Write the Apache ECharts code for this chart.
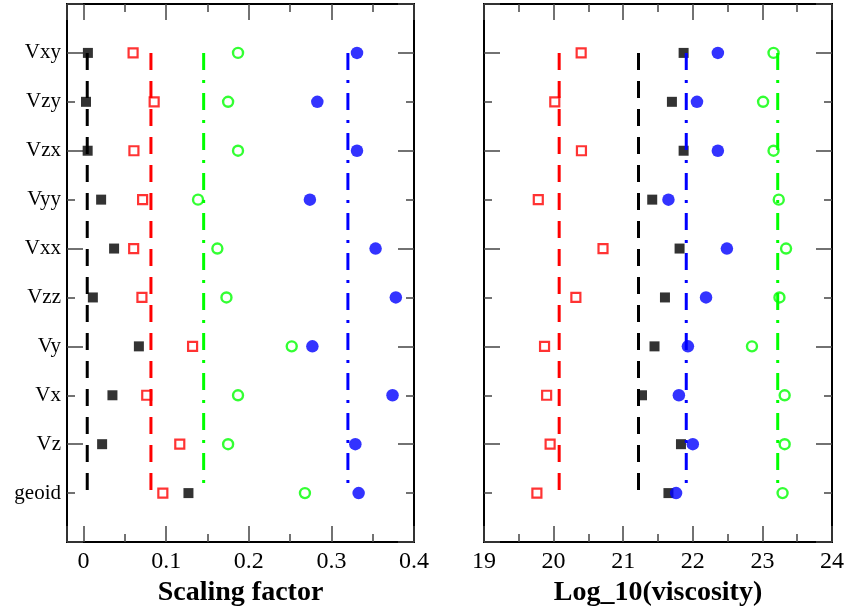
<!DOCTYPE html>
<html><head><meta charset="utf-8">
<script src="https://cdn.jsdelivr.net/npm/echarts@6/dist/echarts.min.js"></script>
<style>html,body{margin:0;padding:0;background:#fff}#c{width:845px;height:606px}</style>
</head><body><div id="c"></div>
<script>
// rows from bottom to top
const categories = ['geoid','Vz','Vx','Vy','Vzz','Vxx','Vyy','Vzx','Vzy','Vxy'];

// Left panel: Scaling factor
const scaleBlack = [0.127, 0.0225, 0.035, 0.067, 0.0113, 0.037, 0.0213, 0.005, 0.003, 0.0053];
const scaleRed   = [0.096, 0.1165, 0.0765, 0.132, 0.0707, 0.0607, 0.0715, 0.061, 0.0855, 0.060];
const scaleGreen = [0.268, 0.175, 0.187, 0.252, 0.173, 0.162, 0.1386, 0.187, 0.175, 0.187];
const scaleBlue  = [0.333, 0.329, 0.374, 0.277, 0.378, 0.3535, 0.274, 0.331, 0.283, 0.331];
// reference lines (black, red, green, blue)
const scaleLines = [0.0045, 0.0816, 0.1454, 0.320];

// Right panel: Log_10(viscosity)
const viscBlack = [21.65, 21.83, 21.27, 21.45, 21.60, 21.81, 21.417, 21.868, 21.70, 21.868];
const viscRed   = [19.76, 19.95, 19.90, 19.87, 20.32, 20.71, 19.78, 20.40, 20.017, 20.396];
const viscGreen = [23.29, 23.32, 23.32, 22.85, 23.245, 23.34, 23.235, 23.16, 23.01, 23.16];
const viscBlue  = [21.76, 22.00, 21.80, 21.93, 22.19, 22.49, 21.65, 22.36, 22.06, 22.36];
const viscLines = [21.22, 20.08, 23.22, 21.906];

const scaleTickLabels = ['0','0.1','0.2','0.3','0.4'];
const viscTickLabels = ['19','20','21','22','23','24'];

const FONT = 'Liberation Serif';
const TICKC = '#444';
const colors = ['#000000','#ff0000','#00ff00','#0000ff'];

const gridL = {left:67, top:4, width:347, height:538};
const gridR = {left:484, top:4, width:348, height:538};

function isMult(v, step){ const r = v/step; return Math.abs(r-Math.round(r))<1e-6; }

function xAx(grid, pos, min, max, step, len, labels, name){
  const a = {
    type:'value', gridIndex:grid, position:pos, min:min, max:max,
    minInterval:step, maxInterval:step,
    axisLine:{show:false, onZero:false}, splitLine:{show:false},
    axisTick:{show:true, inside:true, length:len, lineStyle:{color:TICKC, width:1.5}},
    axisLabel:{show:!!labels}
  };
  if (labels) {
    a.axisLabel = {show:true, margin:8, fontFamily:FONT, fontSize:24, color:'#000',
      formatter:(v)=>{ if(!isMult(v,step)) return ''; const i = labels.vals.findIndex(t=>Math.abs(t-v)<1e-6); return i>=0 ? labels.text[i] : ''; }};
  }
  if (name) {
    a.name = name; a.nameLocation='middle'; a.nameGap=28;
    a.nameTextStyle = {fontFamily:FONT, fontWeight:'bold', fontSize:28, color:'#000'};
  }
  return a;
}
function yAx(grid, pos, step, len, withLabels){
  const a = {
    type:'value', gridIndex:grid, position:pos, min:0, max:11, interval:step,
    axisLine:{show:false, onZero:false}, splitLine:{show:false},
    axisTick:{show:true, inside:true, length:len, lineStyle:{color:TICKC, width:1.5}},
    axisLabel:{show:false}
  };
  if (withLabels) {
    a.axisLabel = {show:true, margin:6, fontFamily:FONT, fontSize:21, color:'#000',
      formatter:(v)=>{ const i=Math.round(v); return (i>=1 && i<=categories.length) ? categories[i-1] : ''; }};
  }
  return a;
}

const scaleLab = {vals:[0,0.1,0.2,0.3,0.4], text:scaleTickLabels};
const viscLab = {vals:[19,20,21,22,23,24], text:viscTickLabels};

const xAxis = [
  xAx(0,'bottom',-0.02,0.4,0.1,16,scaleLab,'Scaling factor'),
  xAx(0,'top',-0.02,0.4,0.1,16,null,null),
  xAx(1,'bottom',-0.02,0.4,0.05,8,null,null),
  xAx(1,'top',-0.02,0.4,0.05,8,null,null),
  xAx(2,'bottom',19,24,1,16,viscLab,'Log_10(viscosity)'),
  xAx(2,'top',19,24,1,16,null,null),
  xAx(3,'bottom',19,24,0.5,8,null,null),
  xAx(3,'top',19,24,0.5,8,null,null)
];
const yAxis = [
  yAx(0,'left',2,16,false), yAx(0,'right',2,16,false),
  yAx(1,'left',1,8,true), yAx(1,'right',1,8,false),
  yAx(2,'left',2,16,false), yAx(2,'right',2,16,false),
  yAx(3,'left',1,8,false), yAx(3,'right',1,8,false)
];

function pts(vals){ return vals.map((v,i)=>[v, i+1]); }
function scatter(vals, ci, kind, xi, yi){
  const s = {type:'scatter', xAxisIndex:xi, yAxisIndex:yi, data:pts(vals), z:2, silent:true};
  const c = colors[ci];
  if (kind==='fillSq'){ s.symbol='rect'; s.symbolSize=10; s.itemStyle={color:c}; }
  if (kind==='openSq'){ s.symbol='rect'; s.symbolSize=9; s.itemStyle={color:'rgba(0,0,0,0)', borderColor:c, borderWidth:2.2}; }
  if (kind==='openCi'){ s.symbol='circle'; s.symbolSize=10; s.itemStyle={color:'rgba(0,0,0,0)', borderColor:c, borderWidth:2.4}; }
  if (kind==='fillCi'){ s.symbol='circle'; s.symbolSize=12.5; s.itemStyle={color:c}; }
  return s;
}
function vline(x, ci, dashed, xi, yi){
  return {type:'line', xAxisIndex:xi, yAxisIndex:yi, data:[[x,10],[x,1]], symbol:'none', z:3, silent:true,
    lineStyle:{color:colors[ci], width:3, type: dashed ? [17,11] : [17,10,3,10]}};
}

const series = [
  scatter(scaleBlack,0,'fillSq',0,0),
  scatter(scaleRed,1,'openSq',0,0),
  scatter(scaleGreen,2,'openCi',0,0),
  scatter(scaleBlue,3,'fillCi',0,0),
  vline(scaleLines[0],0,true,0,0),
  vline(scaleLines[1],1,true,0,0),
  vline(scaleLines[2],2,false,0,0),
  vline(scaleLines[3],3,false,0,0),
  scatter(viscBlack,0,'fillSq',4,4),
  scatter(viscRed,1,'openSq',4,4),
  scatter(viscGreen,2,'openCi',4,4),
  scatter(viscBlue,3,'fillCi',4,4),
  vline(viscLines[0],0,true,4,4),
  vline(viscLines[1],1,true,4,4),
  vline(viscLines[2],2,false,4,4),
  vline(viscLines[3],3,false,4,4)
];

const gbase = {containLabel:false, outerBoundsMode:'none'};
const chart = echarts.init(document.getElementById('c'), null, {renderer:'canvas'});
chart.setOption({
  animation:false,
  backgroundColor:'#fff',
  grid:[
    Object.assign({show:true, borderColor:'#000', borderWidth:2, backgroundColor:'rgba(0,0,0,0)'}, gbase, gridL),
    Object.assign({show:false}, gbase, gridL),
    Object.assign({show:true, borderColor:'#000', borderWidth:2, backgroundColor:'rgba(0,0,0,0)'}, gbase, gridR),
    Object.assign({show:false}, gbase, gridR)
  ],
  xAxis:xAxis, yAxis:yAxis, series:series
});
</script></body></html>
